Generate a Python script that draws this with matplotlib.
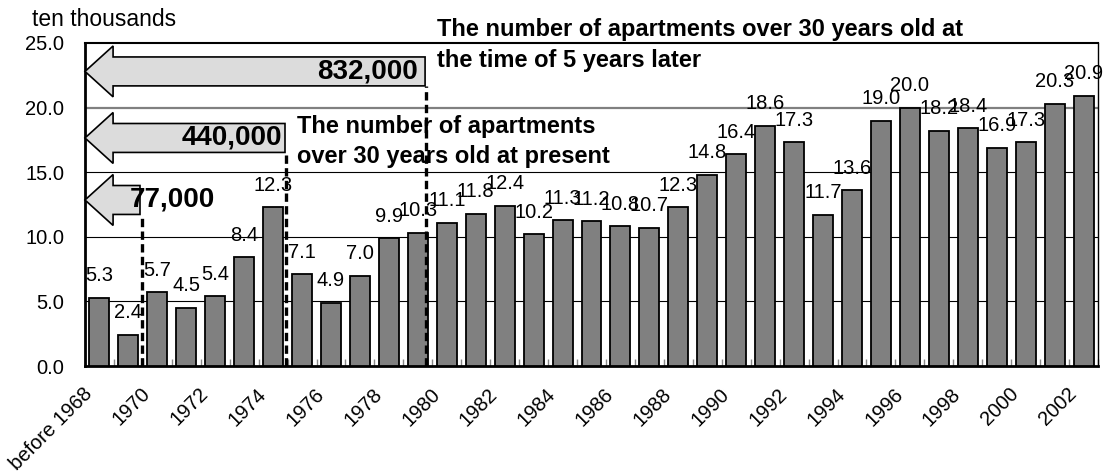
import matplotlib
matplotlib.use("Agg")
import matplotlib.pyplot as plt
from matplotlib.patches import Polygon
from matplotlib.transforms import ScaledTranslation
import numpy as np

plt.rcParams['font.family'] = ['Liberation Sans', 'DejaVu Sans']

categories = ["before 1968"] + [str(y) for y in range(1969, 2003)]
values = [5.3, 2.4, 5.7, 4.5, 5.4, 8.4, 12.3, 7.1, 4.9, 7.0, 9.9, 10.3,
          11.1, 11.8, 12.4, 10.2, 11.3, 11.2, 10.8, 10.7, 12.3, 14.8,
          16.4, 18.6, 17.3, 11.7, 13.6, 19.0, 20.0, 18.2, 18.4, 16.9,
          17.3, 20.3, 20.9]
yticks = [0, 5, 10, 15, 20, 25]
arrow_labels = ["832,000", "440,000", "77,000"]
note_later = "The number of apartments over 30 years old at\nthe time of 5 years later"
note_now = "The number of apartments\nover 30 years old at present"
unit_label = "ten thousands"

fig = plt.figure(figsize=(11.04, 4.75), dpi=100)
ax = fig.add_axes([85/1104, 1-366/475, (1098-85)/1104, (366-43)/475])

x = np.arange(len(categories))
ax.bar(x, values, width=0.69, color='#808080', edgecolor='black', linewidth=1.3, zorder=3)
ax.set_xlim(-0.5, len(categories) - 0.5)
ax.set_ylim(0, 25)

# grid lines
for g in [5, 10, 15]:
    ax.axhline(g, color='black', linewidth=0.8, zorder=1)
ax.axhline(20, color='#808080', linewidth=1.6, zorder=1)

# spines
ax.spines['left'].set_linewidth(2)
ax.spines['bottom'].set_linewidth(2)
ax.spines['top'].set_linewidth(1.5)
ax.spines['right'].set_linewidth(1)

# y ticks
ax.set_yticks(yticks)
ax.set_yticklabels([f"{v:.1f}" for v in yticks], fontsize=14.5)
ax.tick_params(axis='y', length=0, pad=15)

# x ticks
ax.set_xticks(x[::2])
ax.set_xticklabels(categories[::2], fontsize=14.5, rotation=45,
                   ha='right', va='center', rotation_mode='anchor')
ax.tick_params(axis='x', which='major', length=0, pad=0)
ax.set_xticks(np.arange(-0.5, len(categories) + 0.5, 1), minor=True)
ax.tick_params(axis='x', which='minor', direction='in', length=5, color='#888888', width=1)
for lab in ax.get_xticklabels():
    lab.set_transform(lab.get_transform() + ScaledTranslation(-10/100, -25/100, fig.dpi_scale_trans))

# value labels
for xi, v in zip(x, values):
    ax.annotate(f"{v:.1f}", (xi, v), xytext=(0, 9), textcoords='offset points',
                ha='center', va='bottom', fontsize=14.5, zorder=5)

# block arrows
arrow_specs = [  # tail x, center y, label x, label ha
    (11.25, 22.8, 11.0, 'right'),
    (6.41, 17.65, 6.31, 'right'),
    (1.40, 12.85, 1.05, 'left'),
]
head_len = 0.97
body_h = 1.12
head_h = 1.97
for (tail, cy, lx, ha), lab in zip(arrow_specs, arrow_labels):
    tip = -0.5
    base = tip + head_len
    verts = [(tip, cy), (base, cy + head_h), (base, cy + body_h), (tail, cy + body_h),
             (tail, cy - body_h), (base, cy - body_h), (base, cy - head_h)]
    ax.add_patch(Polygon(verts, closed=True, facecolor='#dcdcdc', edgecolor='black',
                         linewidth=1.2, zorder=4, clip_on=False))
    ax.text(lx, cy, lab, ha=ha, va='center', fontsize=20, fontweight='bold', zorder=6)

# dashed vertical lines
for dx, top in [(1.47, 11.7), (6.45, 16.5), (11.28, 21.7)]:
    ax.plot([dx, dx], [0, top], color='black', linewidth=2.4, linestyle=(0, (2.5, 1.3)), zorder=5)

ax.text(11.66, 24.85, note_later, ha='left', va='center', fontsize=17,
        fontweight='bold', linespacing=1.4, clip_on=False, zorder=6)
ax.text(6.83, 17.4, note_now, ha='left', va='center', fontsize=17,
        fontweight='bold', linespacing=1.4, zorder=6)

fig.text(32/1104, 1-20/475, unit_label, ha='left', va='center', fontsize=16.5)

fig.savefig("out.png", dpi=100)
